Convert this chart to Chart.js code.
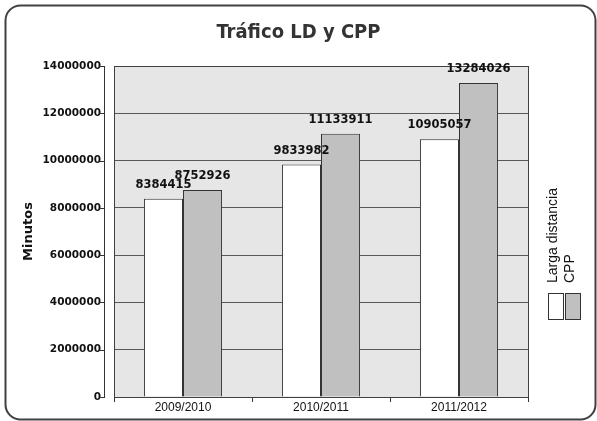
<!DOCTYPE html>
<html><head><meta charset="utf-8">
<script src="https://cdn.jsdelivr.net/npm/chart.js@4/dist/chart.umd.min.js"></script>
<style>html,body{margin:0;padding:0;background:#fff;}#wrap{width:597px;height:421px;position:relative}</style>
</head><body><div id="wrap"><canvas id="c" width="597" height="421"></canvas></div>
<script>
const chartTitle = 'Tráfico LD y CPP';
const yAxisTitle = 'Minutos';
const categories = ['2009/2010', '2010/2011', '2011/2012'];
const seriesNames = ['Larga distancia', 'CPP'];
const largaDistancia = [8384415, 9833982, 10905057];
const cpp = [8752926, 11133911, 13284026];
const yTicks = [0, 2000000, 4000000, 6000000, 8000000, 10000000, 12000000, 14000000];

const BOLD = "'DejaVu Sans', sans-serif";
const REG = "'Liberation Sans', Arial, sans-serif";

const decor = {
  id: 'decor',
  beforeDraw(chart) {
    const {ctx, chartArea: a} = chart;
    ctx.save();
    ctx.fillStyle = '#ffffff';
    ctx.fillRect(0, 0, chart.width, chart.height);
    ctx.fillStyle = '#e6e6e6';
    ctx.fillRect(a.left, a.top, a.right - a.left, a.bottom - a.top);
    ctx.restore();
  },
  beforeDatasetsDraw(chart) {
    const {ctx, chartArea: a} = chart;
    const ys = chart.scales.y;
    ctx.save();
    ctx.strokeStyle = '#404040';
    ctx.lineWidth = 1;
    ctx.strokeRect(Math.round(a.left) + 0.5, Math.round(a.top) + 0.5, Math.round(a.right - a.left), Math.round(a.bottom - a.top));
    const ax = Math.round(a.left) - 10 + 0.5;
    ctx.strokeStyle = '#333';
    ctx.beginPath();
    ctx.moveTo(ax, Math.round(a.top));
    ctx.lineTo(ax, Math.round(a.bottom) + 1);
    ys.ticks.forEach(t => {
      const y = Math.round(ys.getPixelForValue(t.value)) + 0.5;
      ctx.moveTo(ax - 5, y);
      ctx.lineTo(ax, y);
    });
    ctx.stroke();
    ctx.restore();
  },
  afterDatasetsDraw(chart) {
    const {ctx} = chart;
    ctx.save();
    ctx.font = 'bold 11.5px ' + BOLD;
    ctx.fillStyle = '#111';
    ctx.textAlign = 'center';
    ctx.textBaseline = 'bottom';
    chart.data.datasets.forEach((ds, i) => {
      chart.getDatasetMeta(i).data.forEach((bar, j) => {
        ctx.fillText(String(ds.data[j]), bar.x, bar.y - 8);
      });
    });
    ctx.restore();
  },
  afterDraw(chart) {
    const {ctx, chartArea: a} = chart;
    ctx.save();
    ctx.strokeStyle = '#404040';
    ctx.lineWidth = 2;
    ctx.beginPath();
    ctx.roundRect(5.5, 5.5, 590, 414, 15);
    ctx.stroke();
    ctx.font = '14px ' + REG;
    ctx.fillStyle = '#111';
    ctx.textAlign = 'left';
    ctx.textBaseline = 'alphabetic';
    const baseY = 283;
    chart.data.datasets.forEach((ds, i) => {
      const bx = a.right + 29 + i * 16.5;
      ctx.save();
      ctx.translate(bx, baseY);
      ctx.rotate(-Math.PI / 2);
      ctx.fillText(ds.label, 0, 0);
      ctx.restore();
      const sx = a.right + 20 + i * 17;
      ctx.fillStyle = ds.backgroundColor;
      ctx.fillRect(sx, 293, 15, 26);
      ctx.strokeStyle = '#333';
      ctx.lineWidth = 1;
      ctx.strokeRect(sx + 0.5, 293.5, 15, 26);
      ctx.fillStyle = '#111';
    });
    ctx.restore();
  }
};

new Chart(document.getElementById('c'), {
  type: 'bar',
  data: {
    labels: categories,
    datasets: [
      {label: seriesNames[0], data: largaDistancia, backgroundColor: '#ffffff', borderColor: '#333333', borderWidth: 1},
      {label: seriesNames[1], data: cpp, backgroundColor: '#c0c0c0', borderColor: '#333333', borderWidth: 1}
    ]
  },
  options: {
    responsive: false,
    animation: false,
    devicePixelRatio: 1,
    datasets: {bar: {categoryPercentage: 0.566, barPercentage: 1.0}},
    layout: {padding: {left: 5, right: 5, top: 5, bottom: 0}},
    plugins: {
      legend: {display: false},
      tooltip: {enabled: false},
      title: {
        display: true,
        text: chartTitle,
        color: '#333',
        font: {family: "'DejaVu Sans Condensed', 'DejaVu Sans', sans-serif", weight: 'bold', size: 20, lineHeight: 1.2},
        padding: {top: 16, bottom: 21}
      }
    },
    scales: {
      x: {
        type: 'category',
        offset: true,
        grid: {display: true, drawOnChartArea: false, drawTicks: true, tickLength: 5, color: '#333', offset: true},
        border: {display: true, color: '#333', width: 1},
        ticks: {font: {family: REG, size: 12}, color: '#111', padding: -2},
        afterFit(s) { s.height = 24; }
      },
      y: {
        min: 0,
        max: 14000000,
        afterBuildTicks(s) { s.ticks = yTicks.map(v => ({value: v})); },
        grid: {color: '#595959', drawTicks: false, drawOnChartArea: true},
        border: {display: false},
        ticks: {font: {family: BOLD, weight: 'bold', size: 10.5}, color: '#111', padding: 13, callback: v => String(v)},
        title: {display: true, text: yAxisTitle, color: '#111', font: {family: BOLD, weight: 'bold', size: 13}, padding: {top: 16, bottom: 4}},
        afterFit(s) { s.width = 109; }
      },
      legendSpace: {
        type: 'linear',
        position: 'right',
        display: true,
        ticks: {display: false},
        grid: {display: false},
        border: {display: false},
        afterFit(s) { s.width = 64; }
      }
    }
  },
  plugins: [decor]
});
</script></body></html>
